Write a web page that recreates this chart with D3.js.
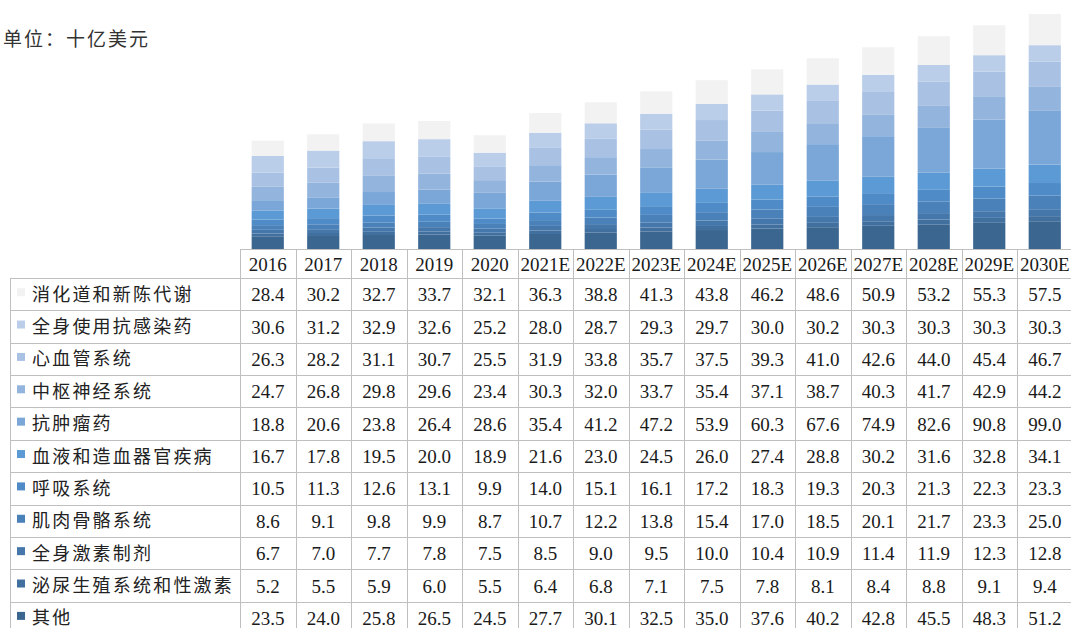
<!DOCTYPE html>
<html><head><meta charset="utf-8">
<script src="https://cdn.jsdelivr.net/npm/d3@7"></script>
<style>body{margin:0;background:#fff;}svg{display:block;}</style>
</head><body>
<script>
const years = ["2016","2017","2018","2019","2020","2021E","2022E","2023E","2024E","2025E","2026E","2027E","2028E","2029E","2030E"];
// table order (top to bottom)
const categories = ["消化道和新陈代谢","全身使用抗感染药","心血管系统","中枢神经系统","抗肿瘤药","血液和造血器官疾病","呼吸系统","肌肉骨骼系统","全身激素制剂","泌尿生殖系统和性激素","其他"];
const colors = ["#F2F2F2","#BACDE9","#A9C2E3","#93B4DC","#7AA7D8","#5B9AD4","#4F8BC6","#4A81B9","#4677AB","#41709F","#3A6690"];
const s_digest = [28.4,30.2,32.7,33.7,32.1,36.3,38.8,41.3,43.8,46.2,48.6,50.9,53.2,55.3,57.5];
const s_antiinf = [30.6,31.2,32.9,32.6,25.2,28.0,28.7,29.3,29.7,30.0,30.2,30.3,30.3,30.3,30.3];
const s_cardio = [26.3,28.2,31.1,30.7,25.5,31.9,33.8,35.7,37.5,39.3,41.0,42.6,44.0,45.4,46.7];
const s_cns = [24.7,26.8,29.8,29.6,23.4,30.3,32.0,33.7,35.4,37.1,38.7,40.3,41.7,42.9,44.2];
const s_onco = [18.8,20.6,23.8,26.4,28.6,35.4,41.2,47.2,53.9,60.3,67.6,74.9,82.6,90.8,99.0];
const s_blood = [16.7,17.8,19.5,20.0,18.9,21.6,23.0,24.5,26.0,27.4,28.8,30.2,31.6,32.8,34.1];
const s_resp = [10.5,11.3,12.6,13.1,9.9,14.0,15.1,16.1,17.2,18.3,19.3,20.3,21.3,22.3,23.3];
const s_musc = [8.6,9.1,9.8,9.9,8.7,10.7,12.2,13.8,15.4,17.0,18.5,20.1,21.7,23.3,25.0];
const s_horm = [6.7,7.0,7.7,7.8,7.5,8.5,9.0,9.5,10.0,10.4,10.9,11.4,11.9,12.3,12.8];
const s_uro = [5.2,5.5,5.9,6.0,5.5,6.4,6.8,7.1,7.5,7.8,8.1,8.4,8.8,9.1,9.4];
const s_other = [23.5,24.0,25.8,26.5,24.5,27.7,30.1,32.5,35.0,37.6,40.2,42.8,45.5,48.3,51.2];
const seriesValues = [s_digest,s_antiinf,s_cardio,s_cns,s_onco,s_blood,s_resp,s_musc,s_horm,s_uro,s_other];
const unitLabel = "单位：十亿美元";

const W = 1071, H = 628;
const svg = d3.select("body").append("svg").attr("width", W).attr("height", H);

const tableLeft = 10, colLeft = 240, colRight = 1072.5;
const headerTop = 249, headerBottom = 278, rowH = 32.37;

// stacked data (bottom = 其他)
const rows = years.map((y, i) => {
  const o = {year: y};
  categories.forEach((c, k) => o[c] = seriesValues[k][i]);
  return o;
});
const stackKeys = categories.slice().reverse();
const stacked = d3.stack().keys(stackKeys)(rows);
const maxTotal = d3.max(rows, r => d3.sum(categories, c => r[c]));

const xBar = d3.scaleBand().domain(years).range([colLeft, colRight]).paddingInner(0.42).paddingOuter(0.21);
const xCol = d3.scaleBand().domain(years).range([colLeft, colRight]).padding(0);
const y = d3.scaleLinear().domain([0, maxTotal]).range([headerTop, 14]);
const color = d3.scaleOrdinal().domain(categories).range(colors);

svg.append("g").selectAll("g").data(stacked).join("g")
  .attr("fill", d => color(d.key))
  .selectAll("rect").data(d => d).join("rect")
  .attr("x", d => xBar(d.data.year))
  .attr("width", xBar.bandwidth())
  .attr("y", d => y(d[1]))
  .attr("height", d => y(d[0]) - y(d[1]));

// unit label
svg.append("text").attr("x", 3).attr("y", 46)
  .attr("font-family", "'Noto Sans CJK SC', sans-serif").attr("font-size", 19)
  .attr("fill", "#333").attr("letter-spacing", 2).text(unitLabel);

// table
const grid = svg.append("g").attr("stroke", "#BFBFBF").attr("stroke-width", 1).attr("shape-rendering", "crispEdges");
const nRows = categories.length;
const bottom = headerBottom + nRows * rowH;
grid.append("line").attr("x1", colLeft).attr("x2", colRight).attr("y1", headerTop + 0.5).attr("y2", headerTop + 0.5);
d3.range(nRows + 1).forEach(i => {
  const yy = Math.round(headerBottom + i * rowH) + 0.5;
  grid.append("line").attr("x1", tableLeft).attr("x2", colRight).attr("y1", yy).attr("y2", yy);
});
grid.append("line").attr("x1", tableLeft + 0.5).attr("x2", tableLeft + 0.5).attr("y1", headerBottom).attr("y2", bottom);
years.forEach(yr => {
  const xx = Math.round(xCol(yr)) + 0.5;
  grid.append("line").attr("x1", xx).attr("x2", xx).attr("y1", headerTop).attr("y2", bottom);
});
grid.append("line").attr("x1", colRight - 0.5).attr("x2", colRight - 0.5).attr("y1", headerTop).attr("y2", bottom);

const numFont = "'Liberation Serif', 'Times New Roman', serif";
svg.append("g").selectAll("text").data(years).join("text")
  .attr("x", d => xCol(d) + xCol.bandwidth() / 2)
  .attr("y", (headerTop + headerBottom) / 2 + 7)
  .attr("text-anchor", "middle").attr("font-family", numFont).attr("font-size", 19)
  .attr("fill", "#1a1a1a").text(d => d);

categories.forEach((c, k) => {
  const cy = headerBottom + k * rowH + rowH / 2;
  const g = svg.append("g");
  g.append("rect").attr("x", 17).attr("y", cy - 6).attr("width", 8).attr("height", 8).attr("fill", colors[k]);
  g.append("text").attr("x", 32).attr("y", cy + 6.5)
    .attr("font-family", "'Noto Sans CJK SC', sans-serif").attr("font-size", 18)
    .attr("letter-spacing", 2.2).attr("fill", "#222").text(c);
  g.selectAll("text.v").data(seriesValues[k]).join("text").attr("class", "v")
    .attr("x", (d, i) => xCol(years[i]) + xCol.bandwidth() / 2)
    .attr("y", cy + 7)
    .attr("text-anchor", "middle").attr("font-family", numFont).attr("font-size", 19)
    .attr("fill", "#1a1a1a").text(d => d.toFixed(1));
});
</script>
</body></html>
